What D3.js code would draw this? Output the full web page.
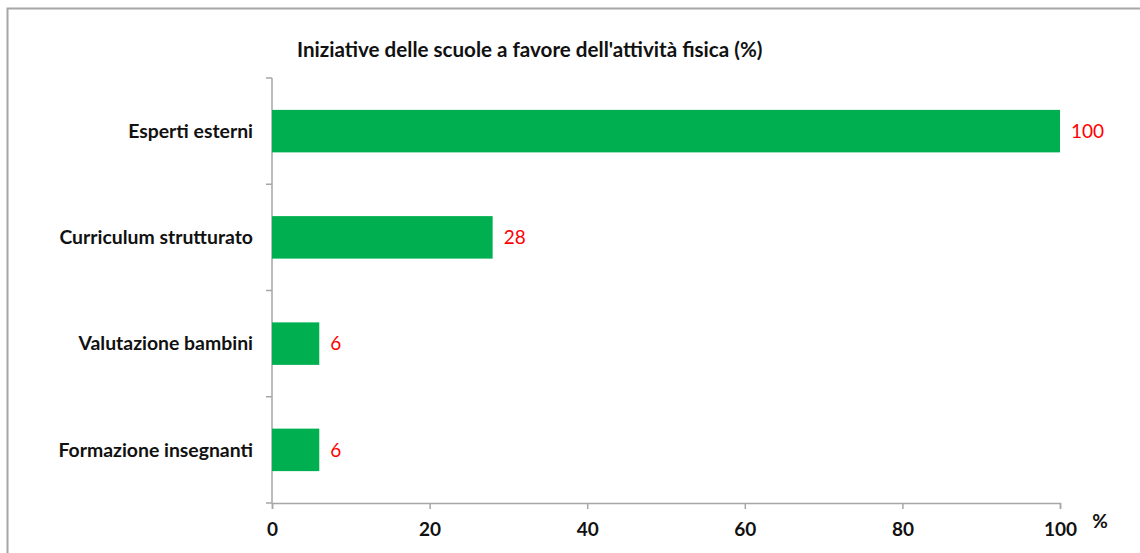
<!DOCTYPE html>
<html>
<head>
<meta charset="utf-8">
<script src="https://cdn.jsdelivr.net/npm/d3@7"></script>
<style>
  body { margin: 0; background: #fff; }
  text { font-family: Lato, "Open Sans", sans-serif; }
</style>
</head>
<body>
<div id="chart"></div>
<script>
var categories = ["Esperti esterni", "Curriculum strutturato", "Valutazione bambini", "Formazione insegnanti"],
    values = [100, 28, 6, 6],
    xTicks = [0, 20, 40, 60, 80, 100],
    title = "Iniziative delle scuole a favore dell'attività fisica (%)";

var W = 1140, H = 553,
    margin = { top: 78, right: 80, bottom: 51, left: 272 },
    width = 1060 - margin.left,
    height = 503 - margin.top;

var svg = d3.select("#chart").append("svg")
    .attr("width", W)
    .attr("height", H);

// outer frame (cut off at right and bottom like the original)
svg.append("rect")
    .attr("x", 7.5).attr("y", 8.5)
    .attr("width", W + 10).attr("height", H + 10)
    .attr("fill", "none")
    .attr("stroke", "#a6a6a6")
    .attr("stroke-width", 2);

svg.append("text")
    .attr("x", 297).attr("y", 57)
    .attr("font-size", 20.6)
    .attr("font-weight", "bold")
    .attr("fill", "#111")
    .text(title);

var g = svg.append("g")
    .attr("transform", "translate(" + margin.left + "," + margin.top + ")");

var x = d3.scaleLinear().domain([0, 100]).range([0, width]);
var y = d3.scaleBand().domain(categories).range([0, height]).paddingInner(0.6).paddingOuter(0.3);

// y axis: ticks at band boundaries
var yAxisG = g.append("g");
yAxisG.append("line")
    .attr("x1", 0).attr("x2", 0).attr("y1", 0).attr("y2", height)
    .attr("stroke", "#a6a6a6").attr("stroke-width", 1.5);
var step = height / categories.length;
yAxisG.selectAll(".yt")
    .data(d3.range(categories.length + 1))
    .enter().append("line")
    .attr("x1", -6).attr("x2", 0)
    .attr("y1", function(d) { return d * step; })
    .attr("y2", function(d) { return d * step; })
    .attr("stroke", "#a6a6a6").attr("stroke-width", 1.5);
yAxisG.selectAll(".ylab")
    .data(categories)
    .enter().append("text")
    .attr("x", -19)
    .attr("y", function(d) { return y(d) + y.bandwidth() / 2; })
    .attr("dy", "0.35em")
    .attr("text-anchor", "end")
    .attr("font-size", 19.4)
    .attr("font-weight", "bold")
    .attr("fill", "#111")
    .text(function(d) { return d; });

// x axis
var xAxis = d3.axisBottom(x).tickValues(xTicks).tickSize(6).tickPadding(14);
var xg = g.append("g")
    .attr("transform", "translate(0," + height + ")")
    .call(xAxis);
xg.select(".domain").attr("stroke", "#a6a6a6").attr("stroke-width", 1.5);
xg.selectAll(".tick line").attr("stroke", "#a6a6a6").attr("stroke-width", 1.5);
xg.selectAll(".tick text")
    .attr("font-family", "Lato, sans-serif")
    .attr("font-size", 19)
    .attr("font-weight", "bold")
    .attr("fill", "#111");

g.append("text")
    .attr("x", width + 40).attr("y", height + 25)
    .attr("text-anchor", "middle")
    .attr("font-size", 19)
    .attr("font-weight", "bold")
    .attr("fill", "#111")
    .text("%");

// bars
g.selectAll(".bar")
    .data(values)
    .enter().append("rect")
    .attr("class", "bar")
    .attr("x", 0)
    .attr("y", function(d, i) { return y(categories[i]); })
    .attr("width", function(d) { return x(d); })
    .attr("height", y.bandwidth())
    .attr("fill", "#00b050");

g.selectAll(".val")
    .data(values)
    .enter().append("text")
    .attr("x", function(d) { return x(d) + 11; })
    .attr("y", function(d, i) { return y(categories[i]) + y.bandwidth() / 2; })
    .attr("dy", "0.35em")
    .attr("font-size", 19)
    .attr("fill", "#ff0000")
    .text(function(d) { return d; });
</script>
</body>
</html>
